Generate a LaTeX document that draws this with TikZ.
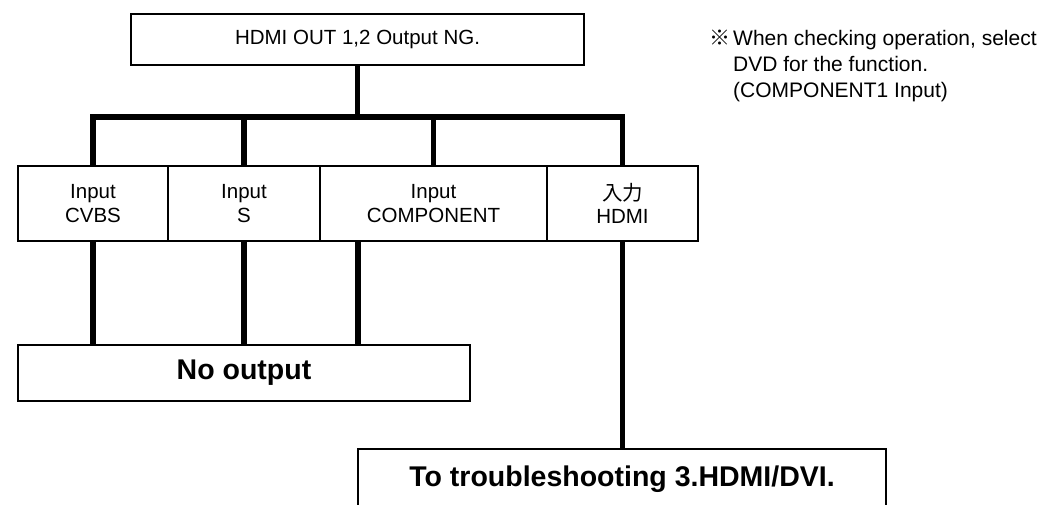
\documentclass[tikz,border=0pt]{standalone}
\usepackage{fontspec}
\setmainfont{Liberation Sans}
\newfontfamily\cjk{Noto Sans CJK JP}
\usepackage{tikz}
\usetikzlibrary{calc,positioning}

\begin{document}
\begin{tikzpicture}[x=1pt,y=-1pt,
  box/.style={draw,line width=1.8pt,inner sep=0pt,outer sep=0pt,align=center,font=\fontsize{20.5}{23.5}\selectfont},
  inbox/.style={box,minimum height=75pt},
  bigbox/.style={box,font=\fontsize{28.5}{32}\selectfont\bfseries},
  link/.style={line width=5.5pt}]
  \useasboundingbox (0,0) rectangle (1053,505);
  \fill[white] (0,0) rectangle (1053,505);
  \coordinate (bus) at (0,117);
  \node[box,minimum width=453pt,minimum height=51pt] (top) at (357.5,39.5) {HDMI OUT 1,2 Output NG.};
  \node[inbox,minimum width=150pt] (cvbs) at (93,203.5) {Input\\CVBS};
  \node[inbox,minimum width=152pt,right=0pt of cvbs] (svid) {Input\\S};
  \node[inbox,minimum width=227pt,right=0pt of svid] (comp) {Input\\COMPONENT};
  \node[inbox,minimum width=151pt,right=0pt of comp] (hdmi) {{\cjk 入力}\\HDMI};
  \node[bigbox,minimum width=452pt,minimum height=56pt] (noout) at (244,373) {No output};
  \node[bigbox,minimum width=528pt,minimum height=60pt] (trouble) at (622,479) {To troubleshooting 3.HDMI/DVI.};
  \node[anchor=north west,inner sep=0pt,font=\fontsize{21}{26}\selectfont] (note) at (709,26.8)
    {\begin{tabular}{@{}l@{\hspace{3pt}}l@{}}{\cjk ※} & When checking operation, select\\ & DVD for the function.\\ & (COMPONENT1 Input)\end{tabular}};
  \draw[link] (top.south) -- (top.south |- bus);
  \draw[link] (cvbs.north) -- (cvbs.north |- bus) -- (hdmi.north |- bus) -- (hdmi.north);
  \foreach \n in {svid,comp} \draw[link] (\n.north) -- (\n.north |- bus);
  \foreach \n in {cvbs,svid} \draw[link] (\n.south) -- (\n.south |- noout.north);
  \coordinate (compout) at ([xshift=-75.5pt]comp.south);
  \draw[link] (compout) -- (compout |- noout.north);
  \draw[link] (hdmi.south) -- (hdmi.south |- trouble.north);
\end{tikzpicture}
\end{document}
